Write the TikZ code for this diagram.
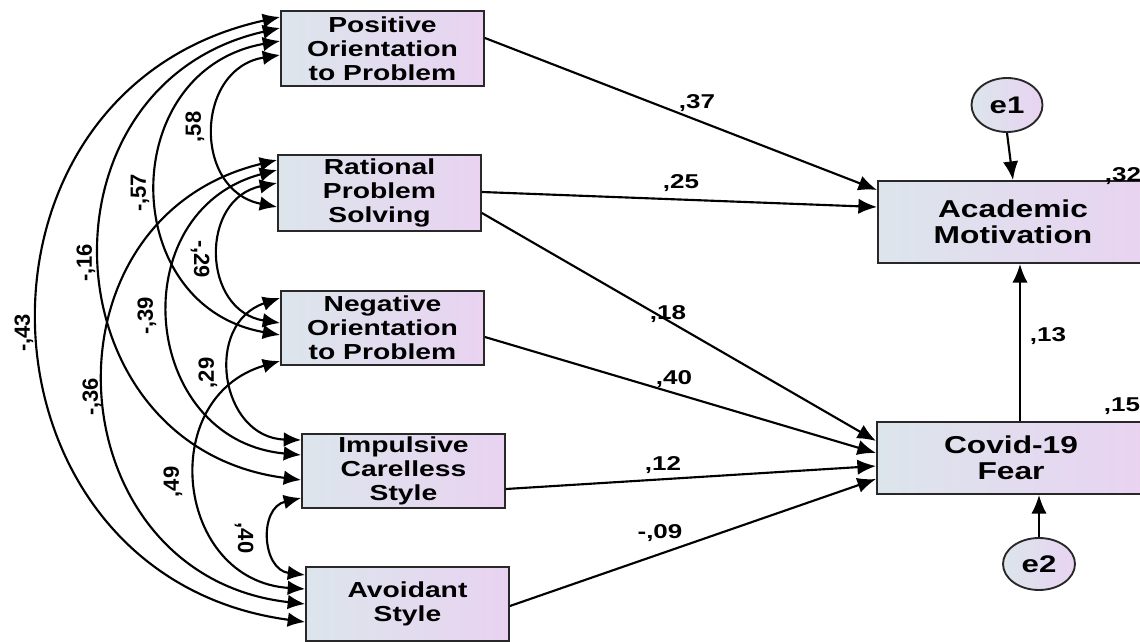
\documentclass[tikz,border=0pt]{standalone}
\usepackage{fontspec}
\setmainfont{Liberation Sans}
\newfontfamily\bxfont{Liberation Sans}[FakeStretch=1.3]
\usetikzlibrary{arrows.meta,shapes.geometric}
\definecolor{fillL}{RGB}{220,229,236}
\definecolor{fillR}{RGB}{233,211,241}
\definecolor{edge}{RGB}{40,40,40}
\begin{document}
\begin{tikzpicture}[x=0.75pt,y=-0.75pt,
  box/.style={rectangle, draw=edge, line width=1.4pt, left color=fillL, right color=fillR,
    align=center, inner sep=0pt, font=\bxfont\bfseries\fontsize{16.3pt}{18pt}\selectfont},
  bigbox/.style={box, font=\bxfont\bfseries\fontsize{18.3pt}{19.5pt}\selectfont},
  err/.style={ellipse, draw=edge, line width=1.4pt, left color=fillL, right color=fillR,
    inner sep=0pt, font=\bxfont\bfseries\fontsize{18pt}{19pt}\selectfont},
  lab/.style={inner sep=0pt, font=\bxfont\bfseries\fontsize{15pt}{16pt}\selectfont},
  rlab/.style={inner sep=0pt, font=\bfseries\fontsize{16.5pt}{17pt}\selectfont},
  cov/.style={{Latex[length=13pt,width=11pt]}-{Latex[length=13pt,width=11pt]}, line width=1.6pt,
    bend right=80, looseness=1.45},
  pth/.style={-{Latex[length=14pt,width=11.5pt]}, line width=1.6pt}
]
\useasboundingbox (0,0) rectangle (1140,642);
\clip (0,0) rectangle (1140,642);

% boxes
\node[box, minimum width=203*0.75pt, minimum height=75*0.75pt] (pos) at (382.5,48.5) {Positive\\Orientation\\to Problem};
\node[box, minimum width=203*0.75pt, minimum height=76*0.75pt] (rat) at (379.5,193) {Rational\\Problem\\Solving};
\node[box, minimum width=203*0.75pt, minimum height=74*0.75pt] (neg) at (382.5,328) {Negative\\Orientation\\to Problem};
\node[box, minimum width=203*0.75pt, minimum height=74*0.75pt] (imp) at (403.5,471) {Impulsive\\Carelless\\Style};
\node[box, minimum width=203*0.75pt, minimum height=74*0.75pt] (avo) at (407.5,604) {Avoidant\\Style};
\node[bigbox, minimum width=270*0.75pt, minimum height=82*0.75pt] (acad) at (1013,222) {Academic\\Motivation};
\node[bigbox, minimum width=268*0.75pt, minimum height=72*0.75pt] (cov) at (1011,458) {Covid-19\\Fear};
\node[err, minimum width=71*0.75pt, minimum height=54*0.75pt] (e1) at (1007,105) {e1};
\node[err, minimum width=72*0.75pt, minimum height=52*0.75pt] (e2) at (1039,564) {e2};

% attachment points on left sides
\coordinate (p1) at (pos.west |- 0,17);
\coordinate (p2) at (pos.west |- 0,28);
\coordinate (p3) at (pos.west |- 0,41);
\coordinate (p4) at (pos.west |- 0,55);
\coordinate (r1) at (rat.west |- 0,160);
\coordinate (r2) at (rat.west |- 0,170);
\coordinate (r3) at (rat.west |- 0,183);
\coordinate (r4) at (rat.west |- 0,207);
\coordinate (n1) at (neg.west |- 0,298);
\coordinate (n2) at (neg.west |- 0,323);
\coordinate (n3) at (neg.west |- 0,335);
\coordinate (n4) at (neg.west |- 0,361);
\coordinate (i1) at (imp.west |- 0,440);
\coordinate (i2) at (imp.west |- 0,455);
\coordinate (i3) at (imp.west |- 0,480);
\coordinate (i4) at (imp.west |- 0,498);
\coordinate (v1) at (avo.west |- 0,575);
\coordinate (v2) at (avo.west |- 0,589);
\coordinate (v3) at (avo.west |- 0,604);
\coordinate (v4) at (avo.west |- 0,622);

% covariance arcs
\draw[cov] (p1) to (v4);
\draw[cov] (p2) to (i3);
\draw[cov] (p3) to (n3);
\draw[cov] (p4) to (r4);
\draw[cov] (r1) to (v3);
\draw[cov] (r2) to (i2);
\draw[cov] (r3) to (n2);
\draw[cov] (n1) to (i1);
\draw[cov] (n4) to (v2);
\draw[cov] (i4) to (v1);

% covariance labels
\node[rlab, rotate=90] (l43) at (24,333) {-,43};
\node[rlab, rotate=90] (l16) at (86,263) {-,16};
\node[rlab, rotate=90] (l57) at (140,193) {-,57};
\node[rlab, rotate=90] (l58) at (195,127) {,58};
\node[rlab, rotate=-90] (l29a) at (200,259) {-,29};
\node[rlab, rotate=90] (l39) at (147,316) {-,39};
\node[rlab, rotate=90] (l36) at (92,397) {-,36};
\node[rlab, rotate=90] (l29b) at (208,373) {,29};
\node[rlab, rotate=90] (l49) at (173,482) {,49};
\node[rlab, rotate=-90] (l40b) at (244,538) {,40};

% path arrows
\coordinate (cn) at (cov.north -| 1020,0);
\coordinate (as) at (acad.south -| 1020,0);
\draw[pth] (pos.east |- 0,38) -- (acad.west |- 0,190);
\draw[pth] (rat.east |- 0,192) -- (acad.west |- 0,207);
\draw[pth] (rat.east |- 0,213) -- (cov.west |- 0,441);
\draw[pth] (neg.east |- 0,337) -- (cov.west |- 0,453);
\draw[pth] (imp.east |- 0,489) -- (cov.west |- 0,466);
\draw[pth] (avo.east |- 0,606) -- (cov.west |- 0,479);
\draw[pth] (cn) -- (as);
\draw[pth] (e1.south) -- (acad.north);
\draw[pth] (e2.north) -- (cov.south -| e2.north);

% path labels
\node[lab] (w37) at (697,103) {,37};
\node[lab] (w25) at (681,183) {,25};
\node[lab] (w18) at (668,314) {,18};
\node[lab] (w40) at (674,379) {,40};
\node[lab] (w12) at (663,465) {,12};
\node[lab] (w09) at (660,533) {-,09};
\node[lab] (w13) at (1048,336) {,13};
\node[lab] (w32) at (1123,176) {,32};
\node[lab] (w15) at (1122,406) {,15};
\end{tikzpicture}
\end{document}
